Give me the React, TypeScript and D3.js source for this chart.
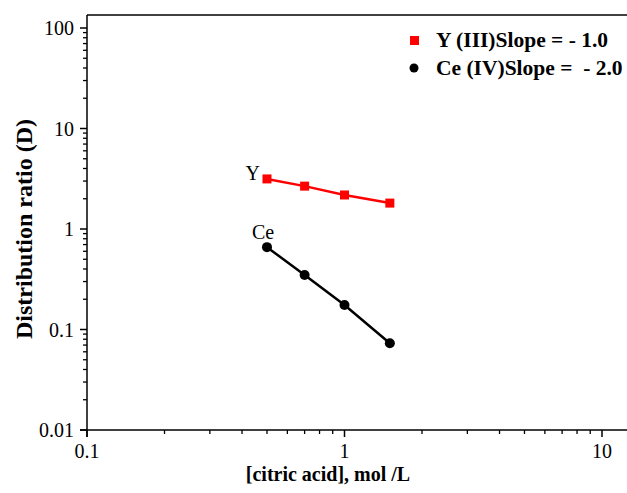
import React from "react";
import * as d3 from "d3";

const concentrations = [0.5, 0.7, 1.0, 1.5];
const yttriumD = [3.15, 2.67, 2.18, 1.81];
const ceriumD = [0.66, 0.348, 0.175, 0.073];
const xTickValues = [0.1, 1, 10];
const yTickValues = [0.01, 0.1, 1, 10, 100];
const legendLabels = ["Y (III)Slope = - 1.0", "Ce (IV)Slope =  - 2.0"];

const W = 627;
const H = 493;
const left = 87;
const top = 15;
const bottom = 430;
const right = 627;

export default function App() {
  const x = d3.scaleLog().domain([0.1, 10]).range([left, 602]);
  const y = d3.scaleLog().domain([0.01, 100]).range([bottom, 28]);

  const fmt = (v: number) => String(v);
  const xMinor: number[] = [];
  for (const dec of [0.1, 1, 10]) for (let k = 2; k <= 9; k++) {
    const v = dec * k;
    if (x(v) <= right) xMinor.push(v);
  }
  const yMinor: number[] = [];
  for (const dec of [0.01, 0.1, 1, 10, 100]) for (let k = 2; k <= 9; k++) {
    const v = dec * k;
    if (y(v) >= top) yMinor.push(v);
  }

  const line = d3
    .line<number>()
    .x((_, i) => x(concentrations[i]))
    .y((d) => y(d));

  const serif = "'Liberation Serif', 'Times New Roman', serif";

  return (
    <svg width={W} height={H} style={{ position: "absolute", left: 0, top: 0, background: "#fff" }} fontFamily={serif}>
      {/* frame */}
      <line x1={left} x2={right} y1={top} y2={top} stroke="#000" strokeWidth={1.5} />
      <line x1={left} x2={left} y1={top} y2={bottom + 7} stroke="#000" strokeWidth={1.5} />
      <line x1={left - 7} x2={right} y1={bottom} y2={bottom} stroke="#000" strokeWidth={1.5} />

      {/* x ticks */}
      {xTickValues.map((v) => (
        <g key={"xt" + v}>
          <line x1={x(v)} x2={x(v)} y1={bottom} y2={bottom + 7} stroke="#000" strokeWidth={1.5} />
          <text x={x(v)} y={bottom + 28} textAnchor="middle" fontSize={20}>
            {fmt(v)}
          </text>
        </g>
      ))}
      {xMinor.map((v) => (
        <line key={"xm" + v} x1={x(v)} x2={x(v)} y1={bottom} y2={bottom + 4} stroke="#000" strokeWidth={1.3} />
      ))}

      {/* y ticks */}
      {yTickValues.map((v) => (
        <g key={"yt" + v}>
          <line x1={left - 7} x2={left} y1={y(v)} y2={y(v)} stroke="#000" strokeWidth={1.5} />
          <text x={left - 13} y={y(v) + 7} textAnchor="end" fontSize={20}>
            {fmt(v)}
          </text>
        </g>
      ))}
      {yMinor.map((v) => (
        <line key={"ym" + v} x1={left - 4} x2={left} y1={y(v)} y2={y(v)} stroke="#000" strokeWidth={1.3} />
      ))}

      {/* axis titles */}
      <text x={328} y={481} textAnchor="middle" fontSize={20} fontWeight="bold">
        [citric acid], mol /L
      </text>
      <text
        transform={`translate(32, ${229}) rotate(-90)`}
        textAnchor="middle"
        fontSize={24}
        fontWeight="bold"
      >
        Distribution ratio (D)
      </text>

      {/* Y series */}
      <path d={line(yttriumD) || ""} fill="none" stroke="#ff0000" strokeWidth={2.5} />
      {yttriumD.map((d, i) => (
        <rect key={"ys" + i} x={x(concentrations[i]) - 4.5} y={y(d) - 4.5} width={9} height={9} fill="#ff0000" />
      ))}

      {/* Ce series */}
      <path d={line(ceriumD) || ""} fill="none" stroke="#000" strokeWidth={2.5} />
      {ceriumD.map((d, i) => (
        <circle key={"cs" + i} cx={x(concentrations[i])} cy={y(d)} r={5} fill="#000" />
      ))}

      {/* point labels */}
      <text x={x(concentrations[0]) - 7} y={y(yttriumD[0]) + 1} textAnchor="end" fontSize={20}>
        Y
      </text>
      <text x={x(concentrations[0]) - 4} y={y(ceriumD[0]) - 8} textAnchor="middle" fontSize={20}>
        Ce
      </text>

      {/* legend */}
      <rect x={410} y={36} width={9} height={9} fill="#ff0000" />
      <text x={436} y={47} fontSize={21.5} fontWeight="bold">
        {legendLabels[0]}
      </text>
      <circle cx={414} cy={68} r={4.5} fill="#000" />
      <text x={436} y={75} fontSize={21.5} fontWeight="bold" style={{ whiteSpace: "pre" }}>
        {legendLabels[1]}
      </text>
    </svg>
  );
}
